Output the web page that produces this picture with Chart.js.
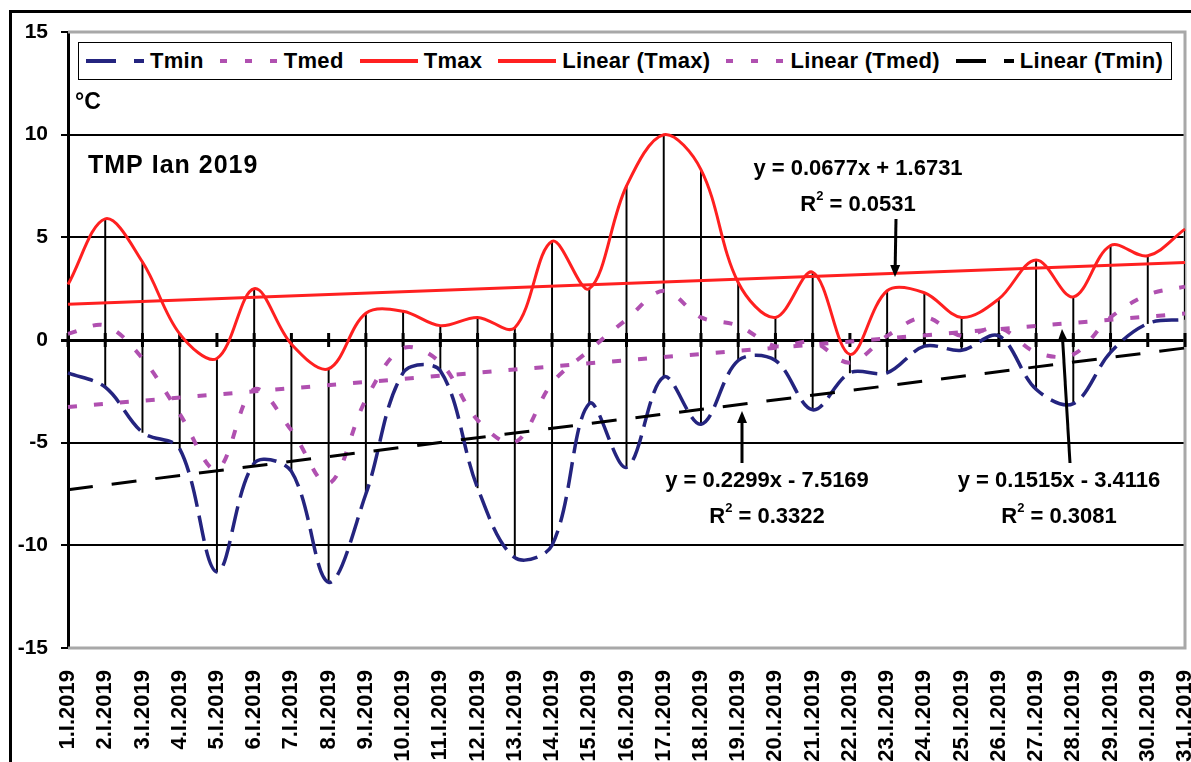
<!DOCTYPE html>
<html>
<head>
<meta charset="utf-8">
<script src="https://cdn.jsdelivr.net/npm/chart.js@4.4.1/dist/chart.umd.min.js"></script>
<style>
  html, body { margin: 0; padding: 0; background: #fff; overflow: hidden; }
  #wrap { position: relative; width: 1191px; height: 762px; }
  #frame { position: absolute; left: 9px; top: 10px; width: 1200px; height: 800px;
           border-left: 3px solid #000; border-top: 3px solid #000; }
  #box { position: absolute; left: 0; top: 0; width: 1191px; height: 762px; }
  #legend { position: absolute; left: 78px; top: 42px; width: 1092px; height: 36px;
            border: 1.5px solid #000; background: #fff; display: flex; align-items: center;
            font: bold 22px "Liberation Sans", Arial, sans-serif; letter-spacing: 0.3px; color: #000;
            white-space: nowrap; overflow: hidden; }
  #legend .item { display: flex; align-items: center; flex-shrink: 0; margin-left: 7px; margin-right: 9px; }
  #legend svg { margin-right: 6px; flex-shrink: 0; }
</style>
</head>
<body>
<div id="wrap">
  <div id="frame"></div>
  <div id="box"><canvas id="tempChart"></canvas></div>
  <div id="legend"></div>
</div>
<script>
(() => {
  'use strict'

  // data (January 2019, °C)
  const labels = ['1.I.2019', '2.I.2019', '3.I.2019', '4.I.2019', '5.I.2019', '6.I.2019', '7.I.2019',
    '8.I.2019', '9.I.2019', '10.I.2019', '11.I.2019', '12.I.2019', '13.I.2019', '14.I.2019',
    '15.I.2019', '16.I.2019', '17.I.2019', '18.I.2019', '19.I.2019', '20.I.2019', '21.I.2019',
    '22.I.2019', '23.I.2019', '24.I.2019', '25.I.2019', '26.I.2019', '27.I.2019', '28.I.2019',
    '29.I.2019', '30.I.2019', '31.I.2019'];
  const tmin = [-1.6, -2.3, -4.5, -5.3, -11.3, -6.0, -6.4, -11.8, -7.5, -1.6, -1.5, -7.2, -10.6, -10.0,
    -3.1, -6.2, -1.8, -4.1, -1.0, -1.0, -3.4, -1.6, -1.6, -0.3, -0.5, 0.2, -2.4, -3.1, -0.6, 0.8, 1.0];
  const tmed = [0.3, 0.7, -0.9, -3.6, -6.3, -2.4, -4.4, -7.0, -2.9, -0.4, -1.1, -3.9, -5.0, -2.1,
    -0.5, 1.0, 2.4, 1.1, 0.7, -0.3, -0.1, -1.1, 0.2, 1.1, 0.2, 0.6, -0.6, -0.7, 1.1, 2.2, 2.6];
  const tmax = [2.7, 5.9, 3.8, 0.3, -0.9, 2.5, -0.2, -1.4, 1.3, 1.4, 0.7, 1.1, 0.6, 4.8,
    2.5, 7.5, 10.0, 8.3, 2.8, 1.1, 3.3, -0.7, 2.4, 2.3, 1.1, 2.0, 3.9, 2.1, 4.6, 4.1, 5.4];
  // trend line end values (first day, last day)
  const trendMax = [1.74, 3.77];
  const trendMed = [-3.26, 1.29];
  const trendMin = [-7.29, -0.39];
  const yTicks = [-15, -10, -5, 0, 5, 10, 15];

  const NAVY = '#24247f';
  const MAGENTA = '#b050b0';
  const RED = '#ff2020';
  const FONT = '"Liberation Sans", Arial, sans-serif';

  const ends = (vals) => [{ x: labels[0], y: vals[0] }, { x: labels[labels.length - 1], y: vals[1] }];

  // legend (html, sits inside the plot like the original)
  const legendItems = [
    { text: 'Tmin', color: NAVY, dash: '30 18' },
    { text: 'Tmed', color: MAGENTA, dash: '7 18' },
    { text: 'Tmax', color: RED, dash: '' },
    { text: 'Linear (Tmax)', color: RED, dash: '' },
    { text: 'Linear (Tmed)', color: MAGENTA, dash: '7 18' },
    { text: 'Linear (Tmin)', color: '#000', dash: '30 18' }
  ];
  document.getElementById('legend').innerHTML = legendItems.map(it =>
    `<span class="item"><svg width="58" height="10"><line x1="0" y1="5" x2="58" y2="5" stroke="${it.color}" stroke-width="4" ${it.dash ? `stroke-dasharray="${it.dash}"` : ''}/></svg>${it.text}</span>`
  ).join('');

  const arrow = (ctx, x1, y1, x2, y2) => {
    const ang = Math.atan2(y2 - y1, x2 - x1);
    ctx.beginPath();
    ctx.moveTo(x1, y1);
    ctx.lineTo(x2 - 8 * Math.cos(ang), y2 - 8 * Math.sin(ang));
    ctx.stroke();
    ctx.beginPath();
    ctx.moveTo(x2, y2);
    ctx.lineTo(x2 - 12 * Math.cos(ang) + 5 * Math.sin(ang), y2 - 12 * Math.sin(ang) - 5 * Math.cos(ang));
    ctx.lineTo(x2 - 12 * Math.cos(ang) - 5 * Math.sin(ang), y2 - 12 * Math.sin(ang) + 5 * Math.cos(ang));
    ctx.closePath();
    ctx.fill();
  };

  const equation = (ctx, cx, cy, line1, r2) => {
    ctx.font = `bold 22px ${FONT}`;
    ctx.textAlign = 'center';
    ctx.textBaseline = 'middle';
    ctx.fillText(line1, cx, cy);
    const rest = ' = ' + r2;
    const wR = ctx.measureText('R').width;
    const wRest = ctx.measureText(rest).width;
    ctx.font = `bold 13px ${FONT}`;
    const w2 = ctx.measureText('2').width;
    let x = cx - (wR + w2 + wRest) / 2;
    const y = cy + 36;
    ctx.textAlign = 'left';
    ctx.font = `bold 22px ${FONT}`;
    ctx.fillText('R', x, y);
    ctx.font = `bold 13px ${FONT}`;
    ctx.fillText('2', x + wR, y - 9);
    ctx.font = `bold 22px ${FONT}`;
    ctx.fillText(rest, x + wR + w2, y);
  };

  const decor = {
    id: 'decor',
    beforeDatasetsDraw(chart) {
      const { ctx, chartArea: a, scales: { x, y } } = chart;
      ctx.save();
      ctx.strokeStyle = '#a8a8a8';
      ctx.lineWidth = 3;
      ctx.beginPath();
      ctx.moveTo(a.left, a.top);
      ctx.lineTo(a.right, a.top);
      ctx.lineTo(a.right, a.bottom);
      ctx.lineTo(a.left, a.bottom);
      ctx.stroke();
      // cross tick marks on the zero line
      const y0 = y.getPixelForValue(0);
      ctx.strokeStyle = '#000';
      ctx.lineWidth = 3;
      labels.forEach((_, i) => {
        const px = x.getPixelForTick(i);
        ctx.beginPath();
        ctx.moveTo(px, y0 - 7);
        ctx.lineTo(px, y0 + 7);
        ctx.stroke();
      });
      ctx.restore();
    },
    afterDraw(chart) {
      const { ctx } = chart;
      ctx.save();
      ctx.fillStyle = '#000';
      ctx.strokeStyle = '#000';
      ctx.textBaseline = 'middle';
      ctx.textAlign = 'left';
      ctx.font = `bold 23px ${FONT}`;
      ctx.fillText('°C', 75, 103);
      ctx.font = `bold 25px ${FONT}`;
      ctx.letterSpacing = '1px';
      ctx.fillText('TMP Ian 2019', 88, 166);
      ctx.letterSpacing = '0px';

      equation(ctx, 858, 169, 'y = 0.0677x + 1.6731', '0.0531');
      equation(ctx, 767, 481, 'y = 0.2299x - 7.5169', '0.3322');
      equation(ctx, 1059, 481, 'y = 0.1515x - 3.4116', '0.3081');

      ctx.lineWidth = 3;
      arrow(ctx, 896, 219, 895, 277);
      arrow(ctx, 742, 463, 742, 411);
      arrow(ctx, 1070, 463, 1062, 329);
      ctx.restore();
    }
  };

  const ctx = document.getElementById('tempChart').getContext('2d');

  const config = {
    type: 'line',
    data: {
      labels: labels,
      datasets: [
        {
          type: 'bar', label: 'high-low', order: 10,
          data: tmax.map((v, i) => [tmin[i], v]),
          backgroundColor: '#000', barThickness: 1.3
        },
        {
          label: 'Tmin', data: tmin, order: 6, borderColor: NAVY, borderWidth: 3.5,
          borderDash: [26, 9], tension: 0.35, pointRadius: 0
        },
        {
          label: 'Tmed', data: tmed, order: 5, borderColor: MAGENTA, borderWidth: 4,
          borderDash: [9, 17], tension: 0.35, pointRadius: 0
        },
        {
          label: 'Tmax', data: tmax, order: 4, borderColor: RED, borderWidth: 3,
          tension: 0.35, pointRadius: 0
        },
        {
          label: 'Linear (Tmax)', data: ends(trendMax), order: 3, borderColor: RED,
          borderWidth: 3, pointRadius: 0
        },
        {
          label: 'Linear (Tmed)', data: ends(trendMed), order: 2, borderColor: MAGENTA,
          borderWidth: 4, borderDash: [9, 17], pointRadius: 0
        },
        {
          label: 'Linear (Tmin)', data: ends(trendMin), order: 1, borderColor: '#000',
          borderWidth: 3, borderDash: [25, 19], pointRadius: 0
        }
      ]
    },
    options: {
      responsive: true,
      maintainAspectRatio: false,
      animation: false,
      layout: { padding: { top: 32, right: 6, left: 0, bottom: 0 } },
      plugins: {
        legend: { display: false },
        tooltip: { enabled: false }
      },
      scales: {
        x: {
          offset: false,
          grid: { display: false },
          border: { display: false },
          ticks: {
            autoSkip: false, maxRotation: 90, minRotation: 90, padding: 14,
            color: '#000', font: { family: FONT, size: 22, weight: 'bold' }
          },
          afterFit: (s) => { s.height = 114; s.paddingLeft = 0; s.paddingRight = 0; }
        },
        y: {
          min: yTicks[0], max: yTicks[yTicks.length - 1],
          afterBuildTicks: (s) => { s.ticks = yTicks.map(v => ({ value: v })); },
          grid: {
            color: (c) => (Math.abs(c.tick.value) === 15 ? 'rgba(0,0,0,0)' : '#000'),
            lineWidth: (c) => (c.tick.value === 0 ? 3 : 2),
            tickColor: '#000', tickLength: 7, drawTicks: true
          },
          border: { display: true, color: '#000', width: 3 },
          ticks: {
            padding: 13, color: '#000',
            font: { family: FONT, size: 21, weight: 'bold' }
          },
          afterFit: (s) => { s.width = 68; }
        }
      }
    },
    plugins: [decor]
  };

  const tempChart = new Chart(ctx, config);
})()
</script>
</body>
</html>
